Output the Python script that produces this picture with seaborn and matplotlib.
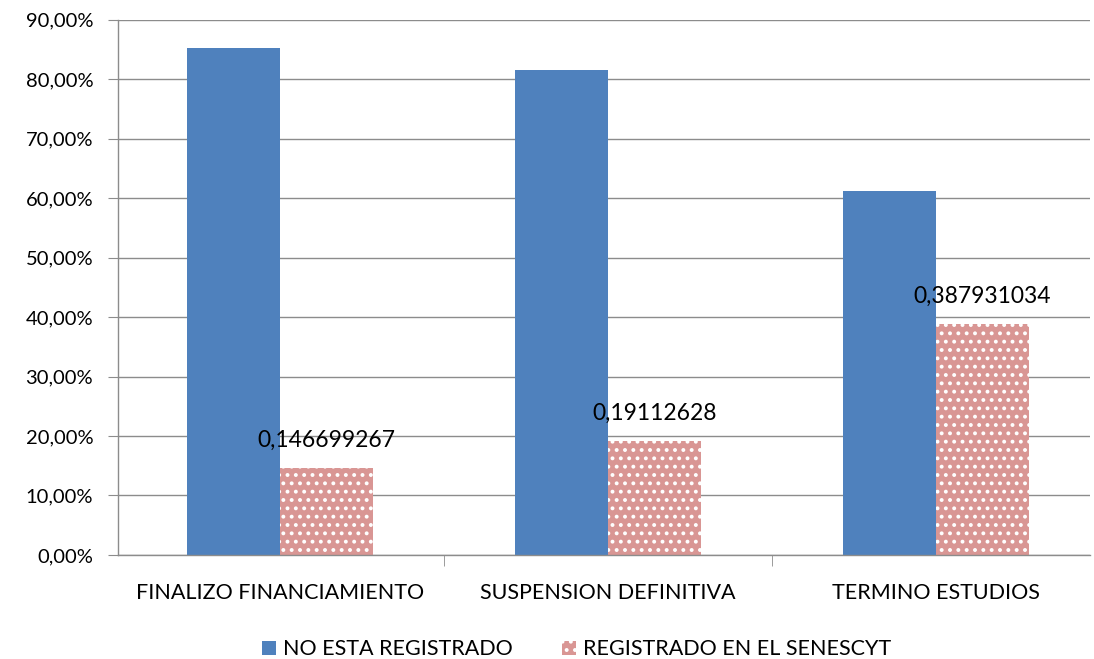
import numpy as np
import pandas as pd
import seaborn as sns
import matplotlib.pyplot as plt
from matplotlib.patches import Patch
from matplotlib.ticker import FuncFormatter

categorias = ["FINALIZO FINANCIAMIENTO", "SUSPENSION DEFINITIVA", "TERMINO ESTUDIOS"]
series = ["NO ESTA REGISTRADO", "REGISTRADO EN EL SENESCYT"]
no_registrado = [0.853300733, 0.8157, 0.612068966]
registrado = [0.146699267, 0.19112628, 0.387931034]
etiquetas = ["0,146699267", "0,19112628", "0,387931034"]

df = pd.DataFrame({
    "categoria": categorias * 2,
    "serie": [series[0]] * 3 + [series[1]] * 3,
    "valor": no_registrado + registrado,
})

sns.set_style("white")
plt.rcParams["font.family"] = ["Lato", "DejaVu Sans"]
plt.rcParams["hatch.color"] = "white"
plt.rcParams["hatch.linewidth"] = 1.6
plt.rcParams["text.color"] = "black"
plt.rcParams["xtick.labelcolor"] = "black"
plt.rcParams["ytick.labelcolor"] = "black"

azul = "#4F81BD"
rosa = "#D99694"

fig = plt.figure(figsize=(10.94, 6.59), dpi=100)
ax = fig.add_axes([0.108, 0.158, 0.888, 0.812])

sns.barplot(data=df, x="categoria", y="valor", hue="serie", palette=[azul, rosa],
            saturation=1, width=0.567, ax=ax, legend=False)

# pink bars get the dotted pattern
for p in ax.containers[1]:
    p.set_hatch("..")
    p.set_edgecolor("white")
    p.set_linewidth(0)
for p in ax.containers[0]:
    p.set_linewidth(0)

# data labels above the pink bars
for p, txt in zip(ax.containers[1], etiquetas):
    ax.text(p.get_x() + p.get_width() / 2, p.get_height() + 0.029, txt,
            ha="center", va="bottom", fontsize=16.5, color="black")

ax.set_ylim(0, 0.9)
ax.set_xlim(-0.494, 2.469)
ax.set_yticks(np.arange(0, 0.91, 0.1))
ax.yaxis.set_major_formatter(FuncFormatter(lambda v, _: f"{v*100:.2f}%".replace(".", ",")))
ax.grid(axis="y", color="#8C8C8C", linewidth=1)
ax.set_axisbelow(True)

ax.set_xlabel("")
ax.set_ylabel("")
ax.tick_params(axis="x", length=0, labelsize=15.5, pad=20, labelcolor="black")
ax.tick_params(axis="y", length=7, color="#8C8C8C", labelsize=14.5, pad=11, direction="out",
               left=True, labelcolor="black")
ax.set_xticks([0.5, 1.5], minor=True)
ax.tick_params(axis="x", which="minor", length=8, color="#8C8C8C", bottom=True)

for s in ["top", "right"]:
    ax.spines[s].set_visible(False)
for s in ["left", "bottom"]:
    ax.spines[s].set_color("#8C8C8C")
    ax.spines[s].set_linewidth(1)

handles = [Patch(facecolor=azul, edgecolor=azul, linewidth=0),
           Patch(facecolor=rosa, edgecolor="white", hatch="..", linewidth=0)]
fig.legend(handles, series, loc="lower center", bbox_to_anchor=(0.527, -0.03), ncol=2,
           frameon=False, fontsize=15.5, handlelength=0.65, handleheight=0.65,
           handletextpad=0.3, columnspacing=2.3, labelcolor="black")

fig.savefig("out.png", dpi=100)
